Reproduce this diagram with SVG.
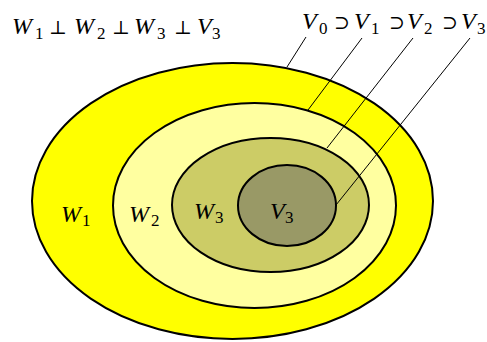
<svg xmlns="http://www.w3.org/2000/svg" width="487" height="342" viewBox="0 0 487 342">
<style>
.m{font-style:italic;font-size:24px;fill:#000}
.s{font-style:normal;font-size:17px;fill:#000}
.o{font-style:normal;font-size:19px;fill:#000}
.e{stroke:#000;stroke-width:2}
.c{stroke:#000;stroke-width:1;fill:none}
</style>
<rect width="487" height="342" fill="#fff"/>
<g id="n-W1">
<ellipse class="e" cx="232.5" cy="201" rx="200.5" ry="138" fill="#ffff00"/>
<text font-family="Liberation Serif, serif"><tspan class="m" x="61" y="222">W</tspan><tspan class="s" x="82" y="226">1</tspan></text>
</g>
<g id="n-W2">
<ellipse class="e" cx="254.5" cy="205.5" rx="141.5" ry="102.5" fill="#ffffa0"/>
<text font-family="Liberation Serif, serif"><tspan class="m" x="129" y="222">W</tspan><tspan class="s" x="151" y="226">2</tspan></text>
</g>
<g id="n-W3">
<ellipse class="e" cx="270.5" cy="205" rx="98.5" ry="67" fill="#cccc66"/>
<text font-family="Liberation Serif, serif"><tspan class="m" x="194" y="219">W</tspan><tspan class="s" x="215" y="223">3</tspan></text>
</g>
<g id="n-V3">
<ellipse class="e" cx="287" cy="205.5" rx="49" ry="40.5" fill="#999966"/>
<text font-family="Liberation Serif, serif"><tspan class="m" x="270" y="219">V</tspan><tspan class="s" x="285" y="223">3</tspan></text>
</g>
<g id="connectors">
<line class="c" x1="306" y1="37" x2="287" y2="67"/>
<line class="c" x1="362" y1="38" x2="308" y2="110"/>
<line class="c" x1="413" y1="38" x2="327" y2="148"/>
<line class="c" x1="470" y1="38" x2="336" y2="205"/>
</g>
<g id="t-orth">
<text font-family="Liberation Serif, DejaVu Serif, serif"><tspan class="m" x="12" y="34">W</tspan><tspan class="s" x="35" y="39">1</tspan><tspan class="o" x="49" y="34">⊥</tspan><tspan class="m" x="74" y="34">W</tspan><tspan class="s" x="97" y="39">2</tspan><tspan class="o" x="112" y="34">⊥</tspan><tspan class="m" x="134" y="34">W</tspan><tspan class="s" x="157" y="39">3</tspan><tspan class="o" x="174" y="34">⊥</tspan><tspan class="m" x="197" y="34">V</tspan><tspan class="s" x="212" y="39">3</tspan></text>
</g>
<g id="t-nest">
<text font-family="Liberation Serif, DejaVu Serif, serif"><tspan class="m" x="302" y="29">V</tspan><tspan class="s" x="319" y="34">0</tspan><tspan class="o" x="334" y="29">⊃</tspan><tspan class="m" x="354" y="29">V</tspan><tspan class="s" x="371" y="34">1</tspan><tspan class="o" x="389" y="29">⊃</tspan><tspan class="m" x="407" y="29">V</tspan><tspan class="s" x="424" y="34">2</tspan><tspan class="o" x="442" y="29">⊃</tspan><tspan class="m" x="461" y="29">V</tspan><tspan class="s" x="477" y="34">3</tspan></text>
</g>
</svg>
